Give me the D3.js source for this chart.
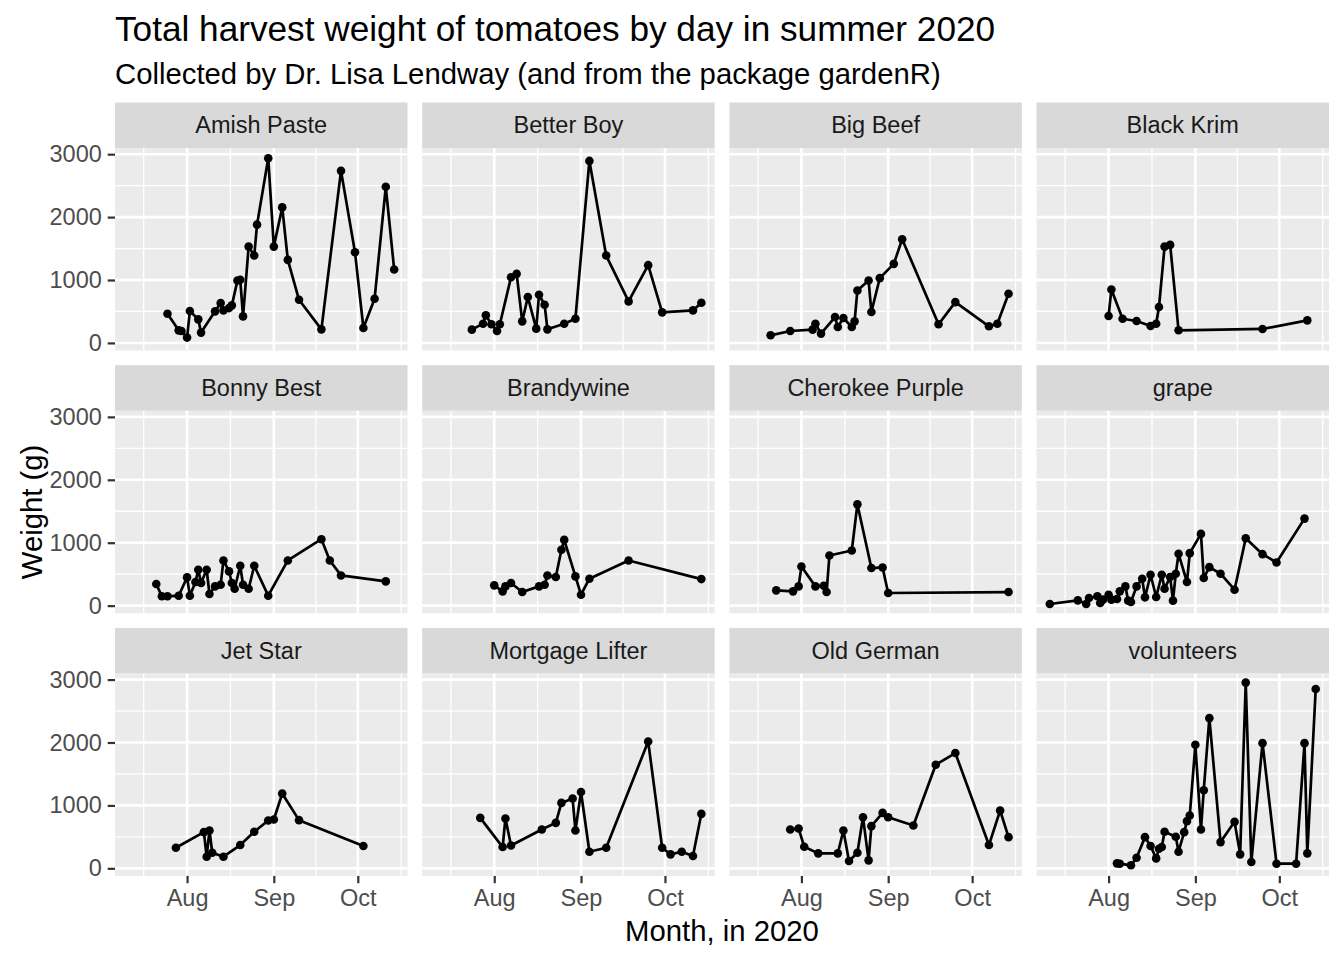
<!DOCTYPE html>
<html>
<head>
<meta charset="utf-8">
<title>Tomato harvest by day</title>
<script src="https://cdn.jsdelivr.net/npm/d3@7"></script>
<style>
  body { margin: 0; background: #fff; }
  svg  { display: block; font-family: "Liberation Sans", Arial, Helvetica, sans-serif; }
</style>
</head>
<body>
<div id="chart"></div>
<script>
'use strict';

// ── Data (dates are MM-DD in 2020, weights in grams) ──
const VARIETIES = [
  'Amish Paste', 'Better Boy', 'Big Beef', 'Black Krim',
  'Bonny Best', 'Brandywine', 'Cherokee Purple', 'grape',
  'Jet Star', 'Mortgage Lifter', 'Old German', 'volunteers'
];

const amishPasteDates   = ['07-25','07-29','07-30','08-01','08-02','08-05','08-06','08-11','08-13','08-14','08-16','08-17','08-19','08-20','08-21','08-23','08-25','08-26','08-30','09-01','09-04','09-06','09-10','09-18','09-25','09-30','10-03','10-07','10-11','10-14'];
const amishPasteWeights = [465, 200, 190, 85, 507, 375, 164, 502, 634, 517, 554, 597, 993, 1003, 422, 1531, 1389, 1880, 2936, 1531, 2154, 1320, 686, 216, 2735, 1441, 238, 702, 2482, 1167];

const betterBoyDates   = ['07-24','07-28','07-29','07-31','08-02','08-03','08-07','08-09','08-11','08-13','08-16','08-17','08-19','08-20','08-26','08-30','09-04','09-10','09-18','09-25','09-30','10-11','10-14'];
const betterBoyWeights = [211, 306, 438, 296, 190, 296, 1045, 1098, 343, 729, 227, 766, 607, 216, 306, 385, 2893, 1389, 660, 1236, 486, 517, 639];

const bigBeefDates   = ['07-21','07-28','08-05','08-06','08-08','08-13','08-14','08-16','08-19','08-20','08-21','08-25','08-26','08-29','09-03','09-06','09-19','09-25','10-07','10-10','10-14'];
const bigBeefWeights = [121, 190, 211, 306, 148, 412, 253, 396, 253, 343, 834, 993, 491, 1030, 1257, 1647, 296, 649, 264, 306, 781];

const blackKrimDates   = ['08-01','08-02','08-06','08-11','08-16','08-18','08-19','08-21','08-23','08-26','09-25','10-11'];
const blackKrimWeights = [428, 850, 385, 348, 269, 306, 570, 1531, 1558, 201, 222, 359];

const bonnyBestDates   = ['07-21','07-23','07-25','07-29','08-01','08-02','08-04','08-05','08-06','08-08','08-09','08-11','08-13','08-14','08-16','08-17','08-18','08-20','08-21','08-23','08-25','08-30','09-06','09-18','09-21','09-25','10-11'];
const bonnyBestWeights = [343, 148, 148, 158, 449, 158, 375, 570, 359, 570, 185, 306, 333, 718, 544, 359, 269, 634, 333, 269, 634, 158, 718, 1056, 718, 480, 385];

const brandywineDates   = ['08-01','08-04','08-05','08-07','08-11','08-17','08-19','08-20','08-23','08-25','08-26','08-30','09-01','09-04','09-18','10-14'];
const brandywineWeights = [322, 227, 306, 359, 216, 306, 333, 480, 454, 887, 1045, 465, 174, 428, 718, 422];

const cherokeePurpleDates   = ['07-23','07-29','07-31','08-01','08-06','08-09','08-10','08-11','08-19','08-21','08-26','08-30','09-01','10-14'];
const cherokeePurpleWeights = [243, 227, 306, 623, 306, 317, 216, 797, 876, 1610, 597, 607, 201, 216];

const grapeDates   = ['07-11','07-21','07-24','07-25','07-28','07-29','07-30','08-01','08-02','08-04','08-05','08-07','08-08','08-09','08-11','08-13','08-14','08-16','08-18','08-20','08-21','08-23','08-24','08-25','08-26','08-29','08-30','09-03','09-04','09-06','09-10','09-15','09-19','09-25','09-30','10-10'];
const grapeWeights = [26, 84, 26, 121, 148, 42, 95, 174, 95, 106, 227, 306, 79, 58, 306, 428, 132, 491, 137, 491, 269, 454, 79, 507, 824, 375, 834, 1140, 438, 612, 507, 253, 1072, 818, 686, 1383];

const jetStarDates   = ['07-28','08-07','08-08','08-09','08-10','08-14','08-20','08-25','08-30','09-01','09-04','09-10','10-03'];
const jetStarWeights = [327, 575, 185, 602, 248, 185, 370, 581, 760, 776, 1188, 766, 354];

const mortgageLifterDates   = ['07-27','08-04','08-05','08-07','08-18','08-23','08-25','08-29','08-30','09-01','09-04','09-10','09-25','09-30','10-03','10-07','10-11','10-14'];
const mortgageLifterWeights = [802, 338, 792, 364, 618, 723, 1040, 1109, 602, 1214, 264, 327, 2017, 327, 222, 264, 195, 866];

const oldGermanDates   = ['07-28','07-31','08-02','08-07','08-14','08-16','08-18','08-21','08-23','08-25','08-26','08-30','09-01','09-10','09-18','09-25','10-07','10-11','10-14'];
const oldGermanWeights = [618, 634, 343, 238, 238, 602, 116, 248, 813, 127, 671, 882, 813, 681, 1647, 1832, 370, 919, 496];

const volunteersDates   = ['08-04','08-05','08-09','08-11','08-14','08-16','08-18','08-19','08-20','08-21','08-25','08-26','08-28','08-29','08-30','09-01','09-03','09-04','09-06','09-10','09-15','09-17','09-19','09-21','09-25','09-30','10-07','10-10','10-11','10-14'];
const volunteersWeights = [79, 74, 48, 169, 496, 354, 158, 312, 338, 581, 502, 264, 575, 750, 840, 1964, 618, 1241, 2387, 417, 739, 222, 2952, 100, 1990, 74, 74, 1990, 238, 2851];

const Y_TICKS       = [0, 1000, 2000, 3000];
const Y_MINOR_TICKS = [500, 1500, 2500];
const X_TICKS       = ['08-01', '09-01', '10-01'];

const TITLE    = 'Total harvest weight of tomatoes by day in summer 2020';
const SUBTITLE = 'Collected by Dr. Lisa Lendway (and from the package gardenR)';
const X_TITLE  = 'Month, in 2020';
const Y_TITLE  = 'Weight (g)';

// ── Build per-variety series ────────────────────────────────────────────────
const parseDay = s => d3.timeParse('%Y-%m-%d')('2020-' + s);

const SERIES = {
  'Amish Paste':     [amishPasteDates, amishPasteWeights],
  'Better Boy':      [betterBoyDates, betterBoyWeights],
  'Big Beef':        [bigBeefDates, bigBeefWeights],
  'Black Krim':      [blackKrimDates, blackKrimWeights],
  'Bonny Best':      [bonnyBestDates, bonnyBestWeights],
  'Brandywine':      [brandywineDates, brandywineWeights],
  'Cherokee Purple': [cherokeePurpleDates, cherokeePurpleWeights],
  'grape':           [grapeDates, grapeWeights],
  'Jet Star':        [jetStarDates, jetStarWeights],
  'Mortgage Lifter': [mortgageLifterDates, mortgageLifterWeights],
  'Old German':      [oldGermanDates, oldGermanWeights],
  'volunteers':      [volunteersDates, volunteersWeights],
};

const rows = {};
VARIETIES.forEach(v => {
  const [ds, ws] = SERIES[v];
  rows[v] = ds.map((d, i) => ({ date: parseDay(d), weight: ws[i] }));
});
const allRows = VARIETIES.flatMap(v => rows[v]);

// ── Layout (ggplot facet_wrap look, 4 columns x 3 rows) ─────────────────────
const W = 1344, H = 960;
const PLOT_L = 115, PLOT_R = 1329, PLOT_T = 148;
const GAP = 14.7, STRIP_H = 45.5, PANEL_H = 202.5;
const NCOL = 4, NROW = 3;
const PANEL_W = (PLOT_R - PLOT_L - (NCOL - 1) * GAP) / NCOL;

// scales: data range + 5% expansion, shared by all panels
const [d0, d1] = d3.extent(allRows, d => d.date);
const padX = (d1 - d0) * 0.05;
const x = d3.scaleTime()
  .domain([new Date(+d0 - padX), new Date(+d1 + padX)])
  .range([0, PANEL_W]);

const [w0, w1] = d3.extent(allRows, d => d.weight);
const padY = (w1 - w0) * 0.05;
const y = d3.scaleLinear()
  .domain([w0 - padY, w1 + padY])
  .range([PANEL_H, 0]);

const xMajor = X_TICKS.map(parseDay);
const months = d3.timeMonth.range(d3.timeMonth.floor(x.domain()[0]),
                                  d3.timeMonth.offset(d3.timeMonth.ceil(x.domain()[1]), 1));
const xMinor = d3.pairs(months, (a, b) => new Date((+a + +b) / 2))
  .filter(d => d >= x.domain()[0] && d <= x.domain()[1]);

const svg = d3.select('#chart').append('svg')
  .attr('width', W).attr('height', H)
  .attr('viewBox', `0 0 ${W} ${H}`);

svg.append('rect').attr('width', W).attr('height', H).attr('fill', '#fff');

const line = d3.line().x(d => x(d.date)).y(d => y(d.weight));

function styleAxis(g) {
  g.attr('font-family', null).attr('font-size', null);
  g.select('.domain').remove();
  g.selectAll('.tick line').attr('stroke', '#333333').attr('stroke-width', 2.2);
  g.selectAll('.tick text').attr('fill', '#4D4D4D').style('font-size', '23.5px');
}

VARIETIES.forEach((v, i) => {
  const col = i % NCOL, row = Math.floor(i / NCOL);
  const px = PLOT_L + col * (PANEL_W + GAP);
  const py = PLOT_T + row * (PANEL_H + GAP + STRIP_H);
  const g = svg.append('g').attr('transform', `translate(${px},${py})`);

  // panel background + grid
  g.append('rect').attr('width', PANEL_W).attr('height', PANEL_H).attr('fill', '#EBEBEB');

  g.selectAll('.ymin').data(Y_MINOR_TICKS).join('line')
    .attr('x1', 0).attr('x2', PANEL_W)
    .attr('y1', d => y(d)).attr('y2', d => y(d))
    .attr('stroke', '#fff').attr('stroke-width', 1.3);
  g.selectAll('.xmin').data(xMinor).join('line')
    .attr('y1', 0).attr('y2', PANEL_H)
    .attr('x1', d => x(d)).attr('x2', d => x(d))
    .attr('stroke', '#fff').attr('stroke-width', 1.3);
  g.selectAll('.ymaj').data(Y_TICKS).join('line')
    .attr('x1', 0).attr('x2', PANEL_W)
    .attr('y1', d => y(d)).attr('y2', d => y(d))
    .attr('stroke', '#fff').attr('stroke-width', 2.6);
  g.selectAll('.xmaj').data(xMajor).join('line')
    .attr('y1', 0).attr('y2', PANEL_H)
    .attr('x1', d => x(d)).attr('x2', d => x(d))
    .attr('stroke', '#fff').attr('stroke-width', 2.6);

  // strip
  g.append('rect')
    .attr('y', -STRIP_H).attr('width', PANEL_W).attr('height', STRIP_H)
    .attr('fill', '#D9D9D9');
  g.append('text')
    .attr('x', PANEL_W / 2).attr('y', -STRIP_H / 2).attr('dy', '0.35em')
    .attr('text-anchor', 'middle')
    .attr('fill', '#1A1A1A').style('font-size', '23.5px')
    .text(v);

  // data
  g.append('path').datum(rows[v])
    .attr('d', line).attr('fill', 'none')
    .attr('stroke', '#000').attr('stroke-width', 2.7)
    .attr('stroke-linejoin', 'round');
  g.selectAll('circle').data(rows[v]).join('circle')
    .attr('cx', d => x(d.date)).attr('cy', d => y(d.weight))
    .attr('r', 4.3).attr('fill', '#000');

  // axes on outer panels only
  if (col === 0) {
    g.append('g')
      .call(d3.axisLeft(y).tickValues(Y_TICKS).tickFormat(d3.format('d'))
        .tickSizeInner(7.3).tickSizeOuter(0).tickPadding(5.9))
      .call(styleAxis);
  }
  if (row === NROW - 1) {
    g.append('g').attr('transform', `translate(0,${PANEL_H})`)
      .call(d3.axisBottom(x).tickValues(xMajor).tickFormat(d3.timeFormat('%b'))
        .tickSizeInner(7.3).tickSizeOuter(0).tickPadding(5.9))
      .call(styleAxis);
  }
});

// ── Titles ─────────────────────────────────────────────────────────────────
const plotBottom = PLOT_T + NROW * PANEL_H + (NROW - 1) * (GAP + STRIP_H);

svg.append('text')
  .attr('x', PLOT_L).attr('y', 41)
  .attr('fill', '#000').style('font-size', '35.2px')
  .text(TITLE);

svg.append('text')
  .attr('x', PLOT_L).attr('y', 84)
  .attr('fill', '#000').style('font-size', '29.3px')
  .text(SUBTITLE);

svg.append('text')
  .attr('x', (PLOT_L + PLOT_R) / 2).attr('y', 941)
  .attr('text-anchor', 'middle')
  .attr('fill', '#000').style('font-size', '29.3px')
  .text(X_TITLE);

svg.append('text')
  .attr('transform', `translate(42,${(PLOT_T + plotBottom) / 2}) rotate(-90)`)
  .attr('text-anchor', 'middle')
  .attr('fill', '#000').style('font-size', '29.3px')
  .text(Y_TITLE);
</script>
</body>
</html>
